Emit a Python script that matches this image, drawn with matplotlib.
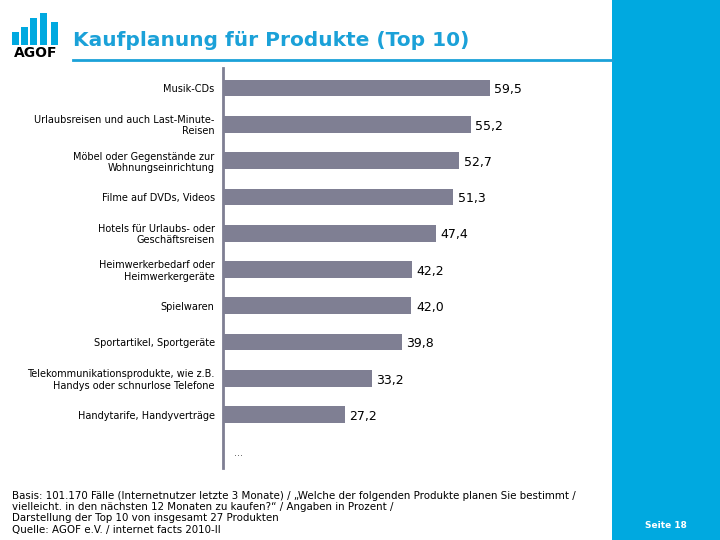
import matplotlib.pyplot as plt
from matplotlib.patches import Rectangle

# Daten (Angaben in Prozent)
kategorien = [
    'Musik-CDs',
    'Urlaubsreisen und auch Last-Minute-\nReisen',
    'Möbel oder Gegenstände zur\nWohnungseinrichtung',
    'Filme auf DVDs, Videos',
    'Hotels für Urlaubs- oder\nGeschäftsreisen',
    'Heimwerkerbedarf oder\nHeimwerkergeräte',
    'Spielwaren',
    'Sportartikel, Sportgeräte',
    'Telekommunikationsprodukte, wie z.B.\nHandys oder schnurlose Telefone',
    'Handytarife, Handyverträge',
]
werte = [59.5, 55.2, 52.7, 51.3, 47.4, 42.2, 42.0, 39.8, 33.2, 27.2]

titel = 'Kaufplanung für Produkte (Top 10)'
fussnote = ('Basis: 101.170 Fälle (Internetnutzer letzte 3 Monate) / „Welche der folgenden Produkte planen Sie bestimmt /\n'
            'vielleicht. in den nächsten 12 Monaten zu kaufen?“ / Angaben in Prozent /\n'
            'Darstellung der Top 10 von insgesamt 27 Produkten\n'
            'Quelle: AGOF e.V. / internet facts 2010-II')

blau = '#00a9e0'
titelblau = '#1ba1d8'
balken = '#7f7f93'

fig = plt.figure(figsize=(7.2, 5.4), dpi=100)
W, H = 720, 540

# blaue Seitenleiste
fig.add_artist(Rectangle((612 / W, 0), 108 / W, 1, color=blau, transform=fig.transFigure, lw=0))
fig.text(666 / W, 1 - 525 / H, 'Seite 18', color='white', fontsize=6.5, fontweight='bold',
         ha='center', va='center')

# Logo
for x0, top in [(12, 32), (21, 27), (30, 18), (40, 13), (51, 22)]:
    fig.add_artist(Rectangle((x0 / W, 1 - 45 / H), 7 / W, (45 - top) / H,
                             color=blau, transform=fig.transFigure, lw=0))
fig.text(36 / W, 1 - 53 / H, 'AGOF', fontsize=10, fontweight='bold', ha='center', va='center')

# Titel + Linie
fig.text(73 / W, 1 - 40 / H, titel, color=titelblau, fontsize=14.5, fontweight='bold', va='center')
fig.add_artist(plt.Line2D([73 / W, 612 / W], [1 - 60 / H, 1 - 60 / H], color=titelblau, lw=2))

# Diagramm
ax = fig.add_axes([223 / W, 1 - 468 / H, 359 / W, 400 / H])
y = list(range(len(werte)))
ax.barh(y, werte, height=0.46, color=balken)
for yi, v in zip(y, werte):
    ax.text(v + 1.0, yi + 0.05, f'{v:.1f}'.replace('.', ','), fontsize=9, va='center', ha='left')
ax.text(2.5, len(werte) + 0.05, '...', fontsize=7, color='#555555', va='center')

ax.set_xlim(0, 80)
ax.set_ylim(10.47, -0.55)
ax.set_yticks(y)
ax.set_yticklabels(kategorien, fontsize=7, linespacing=1.15)
ax.set_xticks([])
ax.tick_params(axis='y', length=0, pad=6)
for s in ['top', 'right', 'bottom']:
    ax.spines[s].set_visible(False)
ax.spines['left'].set_color(balken)
ax.spines['left'].set_linewidth(2)
ax.patch.set_alpha(0)

fig.text(12 / W, 1 - 491 / H, fussnote, fontsize=7.4, va='top', ha='left', linespacing=1.15)

fig.savefig('out.png', dpi=100)
